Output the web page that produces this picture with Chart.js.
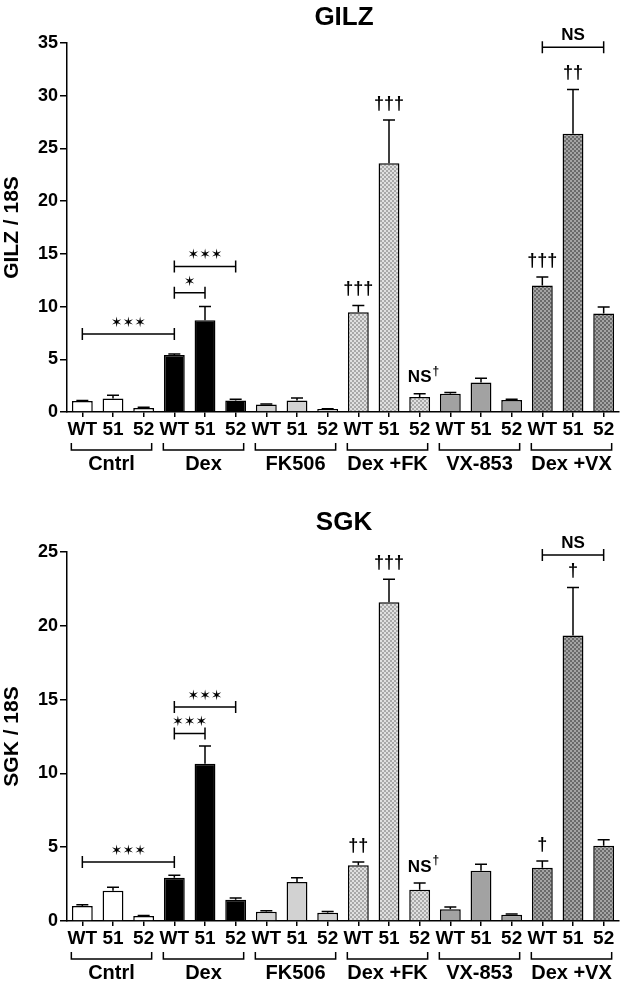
<!DOCTYPE html>
<html>
<head>
<meta charset="utf-8">
<script src="https://cdn.jsdelivr.net/npm/chart.js@4/dist/chart.umd.min.js"></script>
<style>
body { margin: 0; background: #fff; }
canvas { display: block; }
</style>
</head>
<body>
<canvas id="gilzChart" width="622" height="490"></canvas>
<canvas id="sgkChart" width="622" height="494"></canvas>
<script>
const barLabels = ['WT', '51', '52', 'WT', '51', '52', 'WT', '51', '52',
                   'WT', '51', '52', 'WT', '51', '52', 'WT', '51', '52'];
const groupLabels = ['Cntrl', 'Dex', 'FK506', 'Dex +FK', 'VX-853', 'Dex +VX'];

const gilzMeans = [1.05, 1.27, 0.38, 5.4, 8.7, 1.1, 0.7, 1.08, 0.29,
                   9.46, 23.6, 1.43, 1.74, 2.8, 1.14, 12.0, 26.4, 9.35];
const gilzErrors = [0.05, 0.33, 0.07, 0.1, 1.3, 0.1, 0.06, 0.25, 0.03,
                    0.64, 4.1, 0.31, 0.1, 0.4, 0.06, 0.8, 4.2, 0.62];
const gilzBrackets = [
    { from: 0, to: 3, y: 7.4, text: '✶✶✶' },
    { from: 3, to: 4, y: 11.3, text: '✶' },
    { from: 3, to: 5, y: 13.8, text: '✶✶✶' },
    { from: 15, to: 17, y: 34.6, text: 'NS' }
];
const gilzMarks = { 9: '†††', 10: '†††', 11: 'NS†', 15: '†††', 16: '††' };

const sgkMeans = [1.02, 2.05, 0.34, 2.93, 10.65, 1.44, 0.63, 2.64, 0.56,
                  3.77, 21.6, 2.12, 0.79, 3.4, 0.43, 3.6, 19.35, 5.1];
const sgkErrors = [0.08, 0.23, 0.04, 0.17, 1.2, 0.11, 0.07, 0.29, 0.09,
                   0.23, 1.55, 0.45, 0.16, 0.44, 0.04, 0.46, 3.25, 0.4];
const sgkBrackets = [
    { from: 0, to: 3, y: 4.0, text: '✶✶✶' },
    { from: 3, to: 4, y: 12.7, text: '✶✶✶' },
    { from: 3, to: 5, y: 14.5, text: '✶✶✶' },
    { from: 15, to: 17, y: 24.8, text: 'NS' }
];
const sgkMarks = { 9: '††', 10: '†††', 11: 'NS†', 15: '†', 16: '†' };

const FONT = '"Liberation Sans", Arial, sans-serif';

// small checker textures for the Dex+FK and Dex+VX bars
function makePattern(light, dark) {
    const c = document.createElement('canvas');
    c.width = 4;
    c.height = 4;
    const g = c.getContext('2d');
    g.fillStyle = light;
    g.fillRect(0, 0, 4, 4);
    g.fillStyle = dark;
    g.fillRect(0, 0, 2, 2);
    g.fillRect(2, 2, 2, 2);
    return g.createPattern(c, 'repeat');
}

const fkPattern = makePattern('#e0e0e0', '#a8a8a8');
const vxPattern = makePattern('#a4a4a4', '#6a6a6a');
const groupFills = ['#ffffff', '#000000', '#d2d2d2', fkPattern, '#a2a2a2', vxPattern];
const barFills = barLabels.map((_, i) => groupFills[Math.floor(i / 3)]);

function drawMark(ctx, text, x, y) {
    if (text.startsWith('NS') && text.length > 2) {
        ctx.font = 'bold 17px ' + FONT;
        ctx.textAlign = 'center';
        ctx.fillText('NS', x, y);
        const w = ctx.measureText('NS').width;
        ctx.font = 'bold 12px ' + FONT;
        ctx.textAlign = 'left';
        ctx.fillText(text.slice(2), x + w / 2 + 1, y - 6);
        return;
    }
    ctx.font = 'bold 18px ' + FONT;
    ctx.textAlign = 'center';
    ctx.fillText(text, x, y);
}

const extrasPlugin = {
    id: 'extras',
    afterDatasetsDraw(chart, args, opts) {
        const ctx = chart.ctx;
        const xs = chart.scales.x;
        const ys = chart.scales.y;
        const means = chart.data.datasets[0].data;
        ctx.save();
        ctx.strokeStyle = '#000';
        ctx.fillStyle = '#000';
        ctx.lineWidth = 1.5;
        // error bars, upper half only
        opts.errors.forEach((e, i) => {
            const px = xs.getPixelForValue(i);
            const top = ys.getPixelForValue(means[i]);
            const cap = ys.getPixelForValue(means[i] + e);
            ctx.beginPath();
            ctx.moveTo(px, top);
            ctx.lineTo(px, cap);
            ctx.moveTo(px - 6, cap);
            ctx.lineTo(px + 6, cap);
            ctx.stroke();
        });
        // dagger marks above the error bars
        ctx.textBaseline = 'middle';
        for (const [key, text] of Object.entries(opts.marks)) {
            const i = Number(key);
            const cap = ys.getPixelForValue(means[i] + opts.errors[i]);
            drawMark(ctx, text, xs.getPixelForValue(i), cap - 16);
        }
        // significance brackets
        opts.brackets.forEach((b) => {
            const x1 = xs.getPixelForValue(b.from);
            const x2 = xs.getPixelForValue(b.to);
            const py = ys.getPixelForValue(b.y);
            ctx.beginPath();
            ctx.moveTo(x1, py);
            ctx.lineTo(x2, py);
            ctx.moveTo(x1, py - 6);
            ctx.lineTo(x1, py + 6);
            ctx.moveTo(x2, py - 6);
            ctx.lineTo(x2, py + 6);
            ctx.stroke();
            ctx.textAlign = 'center';
            if (b.text === 'NS') {
                ctx.font = 'bold 17px ' + FONT;
                ctx.fillText(b.text, (x1 + x2) / 2, py - 12);
            } else {
                ctx.font = '14px "DejaVu Sans"';
                ctx.fillText(b.text, (x1 + x2) / 2, py - 11);
            }
        });
        ctx.restore();
    },
    afterDraw(chart, args, opts) {
        const ctx = chart.ctx;
        const xs = chart.scales.x;
        const base = chart.chartArea.bottom;
        ctx.save();
        ctx.strokeStyle = '#000';
        ctx.fillStyle = '#000';
        ctx.lineWidth = 1.5;
        ctx.textAlign = 'center';
        ctx.textBaseline = 'middle';
        ctx.font = 'bold 20px ' + FONT;
        groupLabels.forEach((g, k) => {
            const x1 = xs.getPixelForValue(k * 3) - 11;
            const x2 = xs.getPixelForValue(k * 3 + 2) + 8;
            const py = base + 38;
            ctx.beginPath();
            ctx.moveTo(x1, py - 7);
            ctx.lineTo(x1, py);
            ctx.lineTo(x2, py);
            ctx.lineTo(x2, py - 7);
            ctx.stroke();
            ctx.fillText(g, (x1 + x2) / 2, base + 52);
        });
        // panel title
        ctx.font = 'bold 26px ' + FONT;
        ctx.textBaseline = 'alphabetic';
        ctx.fillText(opts.title, 344, opts.titleY);
        ctx.restore();
    }
};

function makePanel(id, title, titleY, axisTitle, means, errors, brackets, marks, yMax, top, xHeight) {
    return new Chart(id, {
        type: 'bar',
        data: {
            labels: barLabels,
            datasets: [
                {
                    data: means,
                    backgroundColor: barFills,
                    borderColor: '#000',
                    borderWidth: 1.5,
                    barPercentage: 0.68,
                    categoryPercentage: 1
                }
            ]
        },
        options: {
            responsive: false,
            animation: false,
            devicePixelRatio: 1,
            layout: { padding: { top: top, right: 3, left: 0, bottom: 0 } },
            plugins: {
                legend: { display: false },
                tooltip: { enabled: false },
                extras: { title: title, titleY: titleY, errors: errors, brackets: brackets, marks: marks }
            },
            scales: {
                x: {
                    grid: { offset: false, drawOnChartArea: false, tickLength: 5, color: '#000', lineWidth: 1.5 },
                    border: { color: '#000', width: 1.5 },
                    ticks: { color: '#000', font: { family: FONT, size: 19, weight: 'bold' }, padding: 1, maxRotation: 0, autoSkip: false },
                    afterFit: (scale) => { scale.height = xHeight; }
                },
                y: {
                    min: 0,
                    max: yMax,
                    grid: { drawOnChartArea: false, tickLength: 7, color: '#000', lineWidth: 1.5 },
                    border: { color: '#000', width: 1.5 },
                    ticks: { stepSize: 5, color: '#000', font: { family: FONT, size: 18, weight: 'bold' }, padding: 2 },
                    title: { display: true, text: axisTitle, color: '#000', font: { family: FONT, size: 21, weight: 'bold' }, padding: 0 },
                    afterFit: (scale) => { scale.width = 67; }
                }
            }
        },
        plugins: [extrasPlugin]
    });
}

makePanel('gilzChart', 'GILZ', 25, 'GILZ / 18S', gilzMeans, gilzErrors, gilzBrackets, gilzMarks, 35, 43, 78);
makePanel('sgkChart', 'SGK', 40, 'SGK / 18S', sgkMeans, sgkErrors, sgkBrackets, sgkMarks, 25, 62, 63);
</script>
</body>
</html>
